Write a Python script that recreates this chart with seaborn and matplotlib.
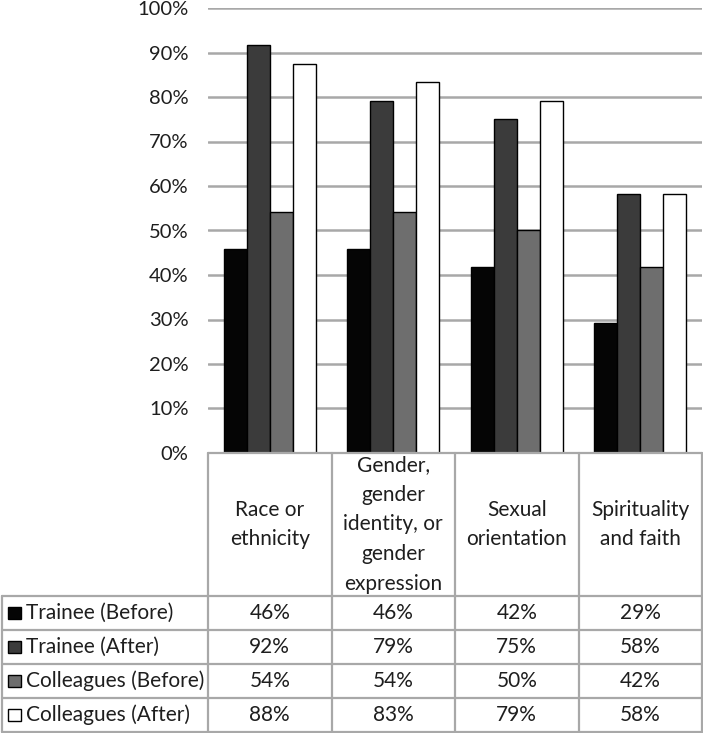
import matplotlib
matplotlib.use("Agg")
import matplotlib.pyplot as plt
from matplotlib.patches import Rectangle
import pandas as pd
import seaborn as sns

# data (percent of respondents)
categories = [
    "Race or\nethnicity",
    "Gender,\ngender\nidentity, or\ngender\nexpression",
    "Sexual\norientation",
    "Spirituality\nand faith",
]
series = ["Trainee (Before)", "Trainee (After)", "Colleagues (Before)", "Colleagues (After)"]
trainee_before = [45.8, 45.8, 41.7, 29.2]
trainee_after = [91.7, 79.2, 75.0, 58.3]
colleagues_before = [54.2, 54.2, 50.0, 41.7]
colleagues_after = [87.5, 83.3, 79.2, 58.3]
yticks = [0, 10, 20, 30, 40, 50, 60, 70, 80, 90, 100]

colors = ["#050505", "#3b3b3b", "#6e6e6e", "#ffffff"]
grid_color = "#a8a8a8"
text_color = "#1e1e1e"
fs = 15

all_values = [trainee_before, trainee_after, colleagues_before, colleagues_after]
rows = []
for name, vals in zip(series, all_values):
    for cat, v in zip(categories, vals):
        rows.append({"category": cat, "series": name, "value": v})
df = pd.DataFrame(rows)

sns.set_theme(style="white")
plt.rcParams["font.family"] = ["Lato", "DejaVu Sans"]

W, H = 703, 733
fig = plt.figure(figsize=(W / 100, H / 100), dpi=100)

# chart area (pixel box 208..702 x 8..453)
x0, x1, y0, y1 = 208, 702, 8, 453
ax = fig.add_axes([x0 / W, 1 - y1 / H, (x1 - x0) / W, (y1 - y0) / H])
sns.barplot(
    data=df, x="category", y="value", hue="series",
    palette=colors, width=0.745, edgecolor="black", linewidth=1.0,
    ax=ax, legend=False, zorder=3,
)
ax.set_xlim(-0.5, 3.5)
ax.set_ylim(0, 100)
ax.set_yticks(yticks)
ax.set_yticklabels([f"{t}%" for t in yticks], fontsize=fs - 0.5, color=text_color)
ax.tick_params(axis="y", length=0, pad=14)
ax.set_xticks([])
ax.set_xlabel("")
ax.set_ylabel("")
for s in ax.spines.values():
    s.set_visible(False)
ax.yaxis.grid(True, color=grid_color, linewidth=1.8, zorder=0)
ax.set_axisbelow(True)

# data table below the chart, drawn in pixel coordinates
tab = fig.add_axes([0, 0, 1, 1], zorder=5)
tab.set_xlim(0, W)
tab.set_ylim(H, 0)
tab.axis("off")
tab.patch.set_alpha(0)

col_x = [208, 331.5, 455, 578.5, 702]
row_y = [596, 630, 664, 698, 731.5]
lw = 1.6

tab.plot([col_x[0], col_x[-1]], [y1, y1], color=grid_color, lw=lw)
for y in row_y:
    tab.plot([2, col_x[-1]], [y, y], color=grid_color, lw=lw)
for x in col_x:
    tab.plot([x, x], [y1, row_y[-1]], color=grid_color, lw=lw)
tab.plot([2, 2], [row_y[0], row_y[-1]], color=grid_color, lw=lw)

for i, cat in enumerate(categories):
    cx = (col_x[i] + col_x[i + 1]) / 2
    tab.text(cx, (y1 + row_y[0]) / 2, cat, ha="center", va="center",
             fontsize=fs, color=text_color, linespacing=1.62)

for r, (name, vals) in enumerate(zip(series, all_values)):
    cy = (row_y[r] + row_y[r + 1]) / 2
    tab.add_patch(Rectangle((8, cy - 6), 13, 12, facecolor=colors[r],
                            edgecolor="black", lw=1.0))
    tab.text(26, cy, name, ha="left", va="center", fontsize=fs, color=text_color)
    for i, v in enumerate(vals):
        cx = (col_x[i] + col_x[i + 1]) / 2
        tab.text(cx, cy, f"{v:.0f}%", ha="center", va="center",
                 fontsize=fs, color=text_color)

fig.savefig("out.png", dpi=100)
